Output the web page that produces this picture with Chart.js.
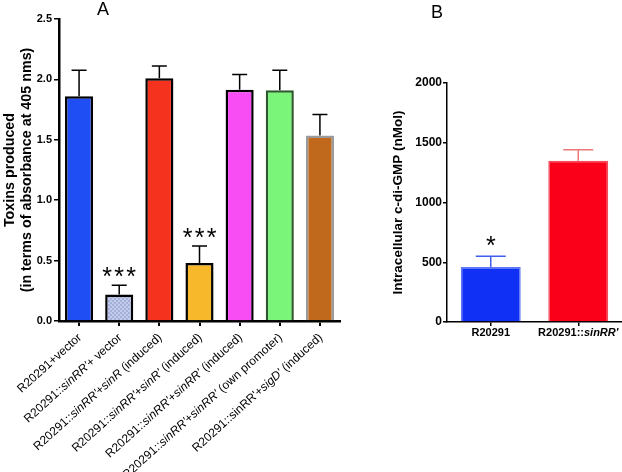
<!DOCTYPE html>
<html>
<head>
<meta charset="utf-8">
<script src="https://cdn.jsdelivr.net/npm/chart.js@4.4.0/dist/chart.umd.min.js"></script>
<style>
html, body { margin: 0; padding: 0; background: #fff; }
#wrap { position: relative; width: 622px; height: 472px; }
#panelA { position: absolute; left: 0; top: 0; }
#panelB { position: absolute; left: 360px; top: 0; }
</style>
</head>
<body>
<div id="wrap">
  <canvas id="panelA" width="360" height="472"></canvas>
  <canvas id="panelB" width="262" height="472"></canvas>
</div>
<script>
// panel A : toxins produced (text between * is italic)
var labelsA = [
  'R20291+vector',
  "R20291::*sinRR'*+ vector",
  "R20291::*sinRR'*+*sinR* (induced)",
  "R20291::*sinRR'*+*sinR'* (induced)",
  "R20291::*sinRR'*+*sinRR'* (induced)",
  "R20291::*sinRR'*+*sinRR'* (own promoter)",
  "R20291::sinRR'+*sigD'* (induced)"
];
var toxinMean = [1.86, 0.22, 2.01, 0.48, 1.915, 1.91, 1.535];
var toxinErr  = [0.215, 0.075, 0.10, 0.14, 0.125, 0.165, 0.175];
var starsA    = ['', '***', '', '***', '', '', ''];
var ticksA    = [0, 0.5, 1.0, 1.5, 2.0, 2.5];
var fillA     = ['#1f4ef5', null, '#f5321e', '#f8b82b', '#f84cf5', '#7af57a', '#c0691c'];
var edgeA     = ['#000', '#000', '#000', '#000', '#000', '#2d5a2d', '#9a9a9a'];

// panel B : intracellular c-di-GMP
var labelsB = ['R20291', "R20291::*sinRR'*"];
var cdgMean = [460, 1350];
var cdgErr  = [90, 92];
var starsB  = ['*', ''];
var ticksB  = [0, 500, 1000, 1500, 2000];

var FAMILY = "'Liberation Sans', Arial, Helvetica, sans-serif";
Chart.defaults.font.family = FAMILY;
Chart.defaults.color = '#000';

// checkered fill for the second bar
function checker() {
  var c = document.createElement('canvas');
  c.width = 4; c.height = 4;
  var p = c.getContext('2d');
  p.fillStyle = '#c3cbe8';
  p.fillRect(0, 0, 4, 4);
  p.fillStyle = '#a4b0da';
  p.fillRect(0, 0, 2, 2);
  p.fillRect(2, 2, 2, 2);
  return p.createPattern(c, 'repeat');
}
fillA[1] = checker();

// error bars (upper only) and significance stars
var errorBars = {
  id: 'errorBars',
  afterDatasetsDraw: function(chart, args, o) {
    var ctx = chart.ctx, ys = chart.scales.y;
    var ds = chart.data.datasets[0];
    chart.getDatasetMeta(0).data.forEach(function(bar, i) {
      var y0 = ys.getPixelForValue(ds.data[i]);
      var y1 = ys.getPixelForValue(ds.data[i] + o.errors[i]);
      ctx.save();
      ctx.strokeStyle = o.colors[i];
      ctx.lineWidth = o.lineWidth;
      ctx.beginPath();
      ctx.moveTo(bar.x, y0);
      ctx.lineTo(bar.x, y1);
      ctx.moveTo(bar.x - o.cap / 2, y1);
      ctx.lineTo(bar.x + o.cap / 2, y1);
      ctx.stroke();
      if (o.stars[i]) {
        ctx.fillStyle = '#000';
        ctx.font = o.starSize + 'px ' + FAMILY;
        ctx.textAlign = 'center';
        ctx.textBaseline = 'alphabetic';
        var s = o.stars[i].split('');
        s.forEach(function(ch, k) {
          ctx.fillText(ch, bar.x + (k - (s.length - 1) / 2) * o.starStep, y1 - o.starOffset);
        });
      }
      ctx.restore();
    });
  }
};

// category labels with italic parts
var richLabels = {
  id: 'richLabels',
  afterDraw: function(chart, args, o) {
    var ctx = chart.ctx, xs = chart.scales.x;
    var base = chart.chartArea.bottom;
    o.labels.forEach(function(lab, i) {
      var parts = lab.split('*');
      var fonts = parts.map(function(p, k) {
        return (k % 2 ? 'italic ' : '') + o.weight + ' ' + o.size + 'px ' + FAMILY;
      });
      var total = 0, widths = [];
      parts.forEach(function(p, k) {
        ctx.font = fonts[k];
        var w = ctx.measureText(p).width;
        widths.push(w);
        total += w;
      });
      ctx.save();
      ctx.translate(xs.getPixelForValue(i) + o.dx, base + o.dy);
      ctx.rotate(-o.angle * Math.PI / 180);
      ctx.fillStyle = '#000';
      ctx.textAlign = 'left';
      ctx.textBaseline = 'middle';
      var x = o.angle ? -total : -total / 2;
      parts.forEach(function(p, k) {
        ctx.font = fonts[k];
        ctx.fillText(p, x, 0);
        x += widths[k];
      });
      ctx.restore();
    });
  }
};

// panel letter
var panelLetter = {
  id: 'panelLetter',
  afterDraw: function(chart, args, o) {
    var ctx = chart.ctx;
    ctx.save();
    ctx.fillStyle = '#000';
    ctx.font = o.size + 'px ' + FAMILY;
    ctx.textAlign = 'center';
    ctx.textBaseline = 'middle';
    ctx.fillText(o.text, o.x, o.y);
    ctx.restore();
  }
};

function plain(l) { return l.split('*').join(''); }

new Chart(document.getElementById('panelA'), {
  type: 'bar',
  data: {
    labels: labelsA.map(plain),
    datasets: [{
      data: toxinMean,
      backgroundColor: fillA,
      borderColor: edgeA,
      borderWidth: 2.5,
      barPercentage: 0.7,
      categoryPercentage: 1
    }]
  },
  plugins: [errorBars, richLabels, panelLetter],
  options: {
    responsive: false,
    animation: false,
    layout: { padding: { left: 0, top: 19, right: 20, bottom: 0 } },
    plugins: {
      legend: { display: false },
      tooltip: { enabled: false },
      errorBars: { errors: toxinErr, colors: ['#000','#000','#000','#000','#000','#000','#000'],
        lineWidth: 1.5, cap: 15, stars: starsA, starSize: 25, starStep: 12, starOffset: 0 },
      richLabels: { labels: labelsA, size: 12, weight: 'normal', angle: 42, dx: 1, dy: 15 },
      panelLetter: { text: 'A', x: 103, y: 10, size: 18 }
    },
    scales: {
      x: {
        ticks: { display: false },
        grid: { offset: false, drawOnChartArea: false, tickLength: 5, color: '#000', lineWidth: 2 },
        border: { color: '#000', width: 2.5 },
        afterFit: function(s) { s.height = 151; }
      },
      y: {
        min: 0, max: 2.5,
        afterBuildTicks: function(s) { s.ticks = ticksA.map(function(v) { return { value: v }; }); },
        ticks: {
          padding: 2,
          font: { size: 11, weight: 'bold' },
          callback: function(v) { return v.toFixed(1); }
        },
        grid: { drawOnChartArea: false, tickLength: 5, color: '#000', lineWidth: 1.5 },
        border: { color: '#000', width: 2.5 },
        title: {
          display: true,
          text: ['Toxins produced', '(in terms of absorbance at 405 nms)'],
          font: { size: 14.3, weight: 'bold', lineHeight: 1.2 },
          padding: { top: 1, bottom: 0 }
        },
        afterFit: function(s) { s.width = 59; }
      }
    }
  }
});

new Chart(document.getElementById('panelB'), {
  type: 'bar',
  data: {
    labels: labelsB.map(plain),
    datasets: [{
      data: cdgMean,
      backgroundColor: ['#1030f5', '#fa0019'],
      borderColor: ['#5a78f5', '#f54a5a'],
      borderWidth: 1.5,
      barPercentage: 0.685,
      categoryPercentage: 1
    }]
  },
  plugins: [errorBars, richLabels, panelLetter],
  options: {
    responsive: false,
    animation: false,
    layout: { padding: { left: 0, top: 83, right: 0, bottom: 0 } },
    plugins: {
      legend: { display: false },
      tooltip: { enabled: false },
      errorBars: { errors: cdgErr, colors: ['#3f5ef0', '#ec7a7a'],
        lineWidth: 1.5, cap: 30, stars: starsB, starSize: 25, starStep: 10, starOffset: 2 },
      richLabels: { labels: labelsB, size: 11, weight: 'bold', angle: 0, dx: 0, dy: 11 },
      panelLetter: { text: 'B', x: 77, y: 13, size: 18 }
    },
    scales: {
      x: {
        ticks: { display: false },
        grid: { offset: false, drawOnChartArea: false, tickLength: 4, color: '#000', lineWidth: 1.5 },
        border: { color: '#000', width: 1.5 },
        afterFit: function(s) { s.height = 150; }
      },
      y: {
        min: 0, max: 2000,
        afterBuildTicks: function(s) { s.ticks = ticksB.map(function(v) { return { value: v }; }); },
        ticks: {
          padding: 1,
          font: { size: 12, weight: 'bold' },
          callback: function(v) { return String(v); }
        },
        grid: { drawOnChartArea: false, tickLength: 4, color: '#000', lineWidth: 1.5 },
        border: { color: '#000', width: 1.5 },
        title: {
          display: true,
          text: 'Intracellular c-di-GMP (nMol)',
          font: { size: 13.5, weight: 'bold' },
          padding: { top: 30, bottom: 0 }
        },
        afterFit: function(s) { s.width = 87; }
      }
    }
  }
});
</script>
</body>
</html>
